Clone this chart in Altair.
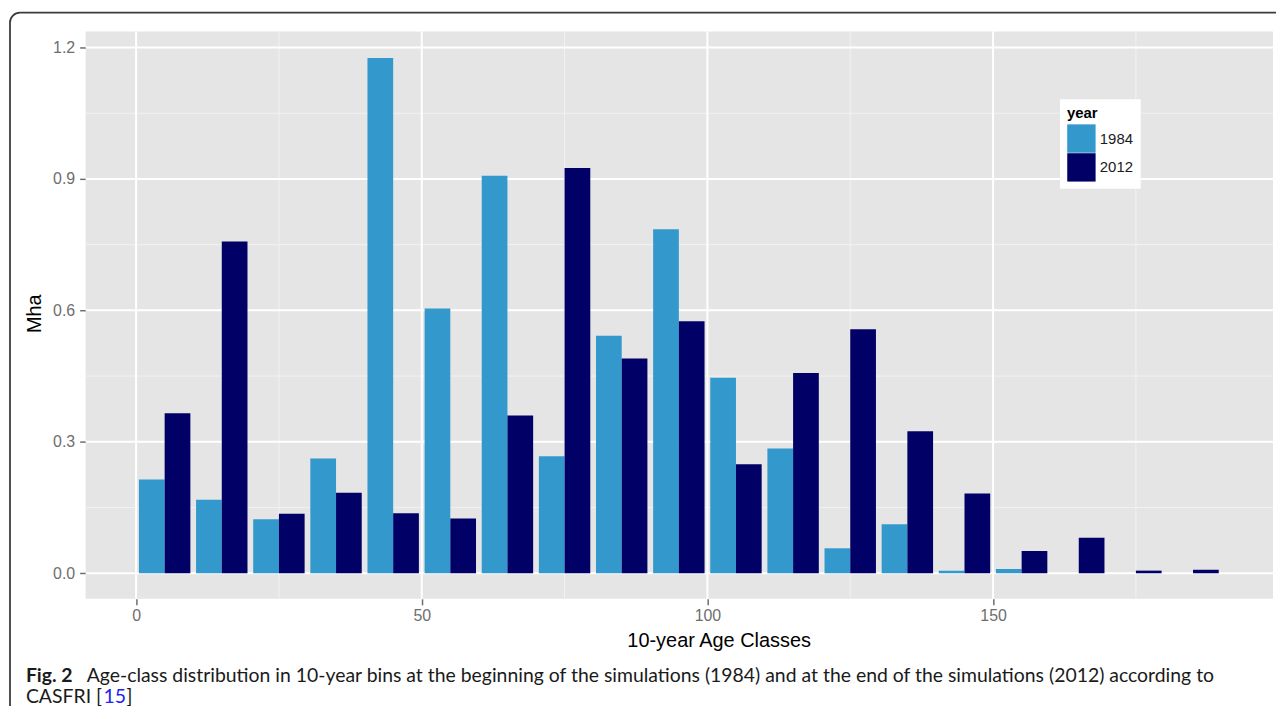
import altair as alt
import pandas as pd

# ---------------- data ----------------
age_classes = [5, 15, 25, 35, 45, 55, 65, 75, 85, 95, 105, 115, 125, 135, 145, 155, 165, 175, 185]
mha_1984 = [0.214, 0.168, 0.123, 0.262, 1.176, 0.604, 0.907, 0.267, 0.542, 0.785,
            0.446, 0.285, 0.057, 0.112, 0.006, 0.010, 0.0, 0.0, 0.0]
mha_2012 = [0.365, 0.757, 0.136, 0.184, 0.137, 0.125, 0.360, 0.925, 0.490, 0.575,
            0.249, 0.457, 0.557, 0.324, 0.182, 0.051, 0.081, 0.006, 0.008]
years = ["1984", "2012"]
year_colors = ["#3399CC", "#000066"]

x_major = [0, 50, 100, 150]
x_minor = [25, 75, 125, 175]
y_major = [0.0, 0.3, 0.6, 0.9, 1.2]
y_minor = [0.15, 0.45, 0.75, 1.05]
x_domain = [-8.83, 199.0]
y_domain = [-0.0584, 1.2363]

x_title = "10-year Age Classes"
y_title = "Mha"
legend_title = "year"
caption_fig = "Fig. 2"
caption_line1 = ("Age-class distribution in 10-year bins at the beginning of the simulations (1984) "
                 "and at the end of the simulations (2012) according to")
caption_line2 = "CASFRI ["
caption_ref = "15"
caption_close = "]"

rows = []
for a, v in zip(age_classes, mha_1984):
    rows.append({"age": a, "year": years[0], "mha": v})
for a, v in zip(age_classes, mha_2012):
    rows.append({"age": a, "year": years[1], "mha": v})
df = pd.DataFrame(rows)

FONT = "Liberation Sans"
CAP_FONT = "Lato"
CAP_SIZE = 19.5
GREY = "#6E6E6E"

xs = alt.Scale(domain=x_domain, nice=False, zero=False)
ys = alt.Scale(domain=y_domain, nice=False, zero=False)

ax_x = alt.Axis(
    values=x_major, format="d", grid=False, domain=False,
    tickColor=GREY, tickSize=6, tickWidth=1.5, labelColor=GREY,
    labelFont=FONT, labelFontSize=16, labelPadding=3,
    title=x_title, titleFont=FONT, titleFontSize=20, titleFontWeight="normal",
    titleColor="black", titleX=636, titleY=42, titleBaseline="middle",
    titleAnchor="middle", titleAlign="center")
ax_y = alt.Axis(
    values=y_major, format=".1f", grid=False, domain=False,
    tickColor=GREY, tickSize=6, tickWidth=1.5, labelColor=GREY,
    labelFont=FONT, labelFontSize=16, labelPadding=5,
    title=y_title, titleFont=FONT, titleFontSize=20, titleFontWeight="normal",
    titleColor="black", titleX=-51, titleY=283, titleBaseline="middle",
    titleAngle=-90, titleAlign="center")

minor_v = alt.Chart(pd.DataFrame({"v": x_minor})).mark_rule(
    color="#F2F2F2", strokeWidth=1).encode(x=alt.X("v:Q", scale=xs, axis=ax_x))
minor_h = alt.Chart(pd.DataFrame({"v": y_minor})).mark_rule(
    color="#F2F2F2", strokeWidth=1).encode(y=alt.Y("v:Q", scale=ys, axis=ax_y))
major_v = alt.Chart(pd.DataFrame({"v": x_major})).mark_rule(
    color="white", strokeWidth=2).encode(x=alt.X("v:Q", scale=xs, axis=ax_x))
major_h = alt.Chart(pd.DataFrame({"v": y_major})).mark_rule(
    color="white", strokeWidth=2).encode(y=alt.Y("v:Q", scale=ys, axis=ax_y))

bars = alt.Chart(df).transform_filter("datum.mha > 0").transform_calculate(
    x0="datum.age - 4.5 + (datum.year == '2012' ? 4.5 : 0)",
    x1="datum.age + (datum.year == '2012' ? 4.5 : 0)",
).mark_bar(strokeWidth=0).encode(
    x=alt.X("x0:Q", scale=xs, axis=ax_x),
    x2="x1:Q",
    y=alt.Y("mha:Q", scale=ys, axis=ax_y),
    y2=alt.datum(0),
    color=alt.Color("year:N", scale=alt.Scale(domain=years, range=year_colors),
                    legend=alt.Legend(
                        title=legend_title, orient="none", legendX=979, legendY=68,
                        fillColor="white", padding=7, symbolType="square",
                        symbolSize=812, symbolStrokeWidth=0, symbolOpacity=1,
                        rowPadding=0, labelOffset=4,
                        labelFont=FONT, labelFontSize=15, labelColor="#1a1a1a",
                        titleFont=FONT, titleFontSize=15, titleFontWeight="bold",
                        titleColor="black", titlePadding=3)),
)


def label(text, x, y, align="left", **kw):
    return alt.Chart(alt.Data(values=[{"t": text}])).mark_text(
        align=align, baseline="middle", **kw).encode(
        x=alt.value(x), y=alt.value(y), text="t:N")


frame = alt.Chart(alt.Data(values=[{"k": 1}])).mark_rect(
    filled=False, stroke="#3c3c3c", strokeWidth=1.8, cornerRadius=10).encode(
    x=alt.value(-76), x2=alt.value(1300), y=alt.value(-19), y2=alt.value(760))

cap = [
    label(caption_fig, -60, 648, font=CAP_FONT, fontSize=CAP_SIZE, fontWeight="bold", color="#1a1a1a"),
    label(caption_line1, 1, 648, font=CAP_FONT, fontSize=CAP_SIZE, color="#1a1a1a"),
    label(caption_line2, -60, 669, font=CAP_FONT, fontSize=CAP_SIZE, color="#1a1a1a"),
    label(caption_ref, 18, 669, font=CAP_FONT, fontSize=CAP_SIZE, color="#2222ee"),
    label(caption_close, 41, 669, font=CAP_FONT, fontSize=CAP_SIZE, color="#1a1a1a"),
]

chart = alt.layer(minor_v, minor_h, major_v, major_h, bars, frame, *cap).properties(
    width=1193, height=570,
    autosize=alt.AutoSizeParams(type="none"),
    padding={"left": 78, "top": 22, "right": 3, "bottom": 106},
).configure_view(fill="#E5E5E5", stroke=None)

chart.save("out.html", embed_options={"renderer": "svg", "actions": False})
